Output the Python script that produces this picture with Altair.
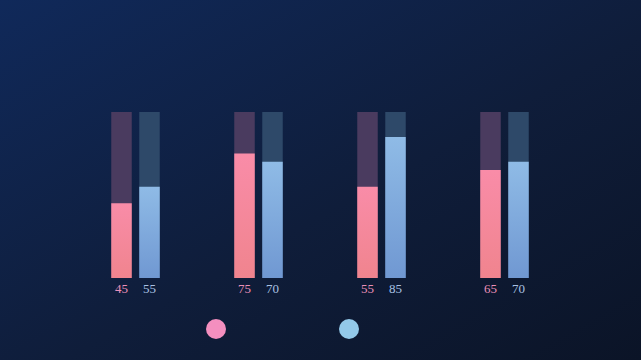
import altair as alt
import pandas as pd

categories = ["A", "B", "C", "D"]
series_names = ["Series 1", "Series 2"]
series1 = [45, 75, 55, 65]
series2 = [55, 70, 85, 70]
track_max = 100

rows = []
for i, c in enumerate(categories):
    rows.append({"cat": c, "series": series_names[0], "value": series1[i], "track": track_max, "base": 0})
    rows.append({"cat": c, "series": series_names[1], "value": series2[i], "track": track_max, "base": 0})
df = pd.DataFrame(rows)

W, H = 492, 166
PAD = {"left": 74, "top": 112, "right": 75, "bottom": 82}
BAR_W = 20.5
SHIFT = 14

x_enc = alt.X("cat:N", scale=alt.Scale(domain=categories, paddingInner=0, paddingOuter=0), axis=None)
y_scale = alt.Scale(domain=[0, 100], nice=False, zero=True)

def grad(top, bottom):
    return alt.Gradient(gradient="linear", x1=0, x2=0, y1=0, y2=1,
                        stops=[alt.GradientStop(color=top, offset=0),
                               alt.GradientStop(color=bottom, offset=1)])

styles = {
    series_names[0]: dict(track="#4a3b5f", top="#f98ca8", bottom="#f0848e", text="#ea90b8", shift=-SHIFT),
    series_names[1]: dict(track="#2e4969", top="#8fbbe6", bottom="#7098d2", text="#a9c1e3", shift=SHIFT),
}

base = alt.Chart(df)

bg = base.transform_filter(
    (alt.datum.cat == categories[0]) & (alt.datum.series == series_names[0])
).mark_rect(
    fill=alt.Gradient(gradient="linear", x1=0, y1=0, x2=1, y2=1,
                      stops=[alt.GradientStop(color="#10295a", offset=0),
                             alt.GradientStop(color="#0f1d3a", offset=0.55),
                             alt.GradientStop(color="#0b1427", offset=1)])
).encode(
    x=alt.value(-PAD["left"]), x2=alt.value(W + PAD["right"]),
    y=alt.value(-PAD["top"]), y2=alt.value(H + PAD["bottom"]),
)

layers = [bg]
for s in series_names:
    st = styles[s]
    f = base.transform_filter(alt.datum.series == s)
    layers.append(f.mark_bar(color=st["track"], width=BAR_W, xOffset=st["shift"]).encode(
        x=x_enc, y=alt.Y("track:Q", scale=y_scale, axis=None)))
    layers.append(f.mark_bar(fill=grad(st["top"], st["bottom"]), width=BAR_W, xOffset=st["shift"]).encode(
        x=x_enc, y=alt.Y("value:Q", scale=y_scale, axis=None)))
    layers.append(f.mark_text(font="Liberation Serif", fontSize=13, color=st["text"],
                              baseline="middle", dy=11, xOffset=st["shift"]).encode(
        x=x_enc, y=alt.Y("base:Q", scale=y_scale, axis=None), text=alt.Text("value:Q")))

legend_layer = base.mark_point(opacity=0, filled=True).encode(
    x=x_enc, y=alt.Y("value:Q", scale=y_scale, axis=None),
    color=alt.Color("series:N",
                    scale=alt.Scale(domain=series_names, range=["#f48fbf", "#93c9e9"]),
                    legend=alt.Legend(orient="none", legendX=132, legendY=207, direction="horizontal",
                                      title=None, symbolType="circle", symbolSize=400,
                                      symbolOpacity=1, symbolStrokeWidth=0,
                                      labelExpr="''", labelOffset=0, columnPadding=113,
                                      padding=0)),
)
layers.append(legend_layer)

chart = alt.layer(*layers).properties(
    width=W, height=H,
    autosize=alt.AutoSizeParams(type="none"),
    padding=PAD,
    background="#0f1f3d",
).configure_view(stroke=None)

chart.save("out.html", embed_options={"renderer": "svg", "actions": False})
